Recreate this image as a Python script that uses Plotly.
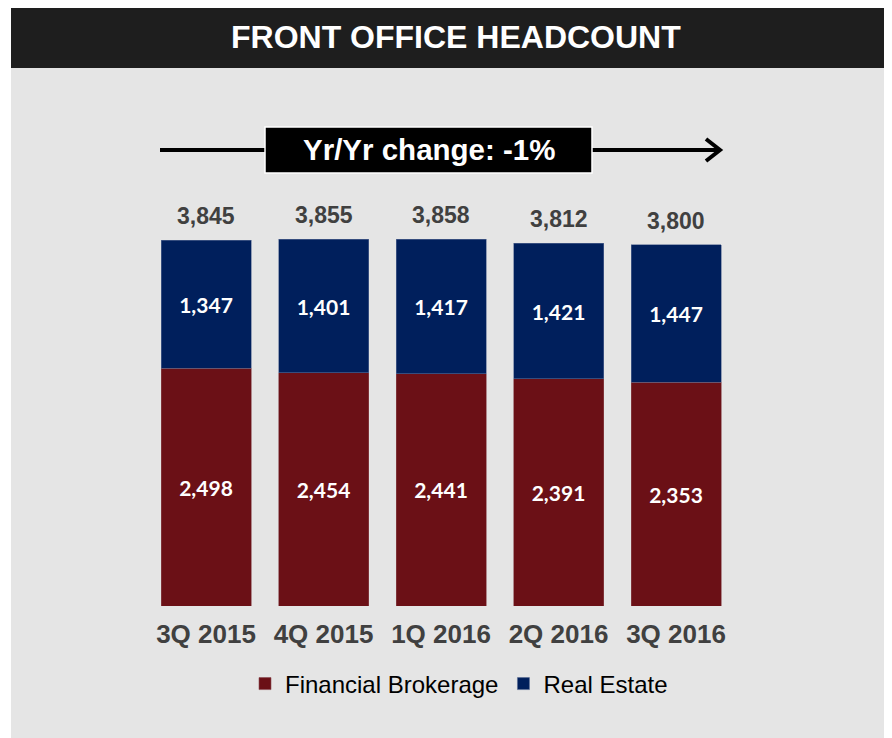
import plotly.graph_objects as go

# Data
quarters = ['3Q 2015', '4Q 2015', '1Q 2016', '2Q 2016', '3Q 2016']
financial_brokerage = [2498, 2454, 2441, 2391, 2353]
real_estate = [1347, 1401, 1417, 1421, 1447]
totals = [3845, 3855, 3858, 3812, 3800]
yoy_label = 'Yr/Yr change: -1%'
title_text = 'FRONT OFFICE HEADCOUNT'

# the page body has an 8px margin, so the figure is a bit smaller than the window
OFF = 8
VW, VH = 892, 738
W, H = VW - OFF, VH - OFF
RED = '#6b1016'
BLUE = '#001f5c'
GRAY_BG = '#e5e5e5'
TEXT_GRAY = '#404040'
ARIAL = 'Liberation Sans, Arial'
GILL = 'Lato, Gill Sans MT, Noto Sans, sans-serif'


def px_x(x):
    # window pixel -> paper fraction
    return (x - OFF) / W


def px_y(y):
    return (VH - y) / H


fig = go.Figure()

fig.add_trace(go.Bar(
    x=quarters,
    y=financial_brokerage,
    name='Financial Brokerage',
    marker=dict(color=RED, line=dict(color='#8a4a50', width=0.6)),
    text=[f'{v:,}' for v in financial_brokerage],
    textposition='inside',
    insidetextanchor='middle',
    textfont=dict(family=GILL, size=21, color='white', weight='bold'),
    hovertemplate='%{x}<br>Financial Brokerage: %{y:,}<extra></extra>'
))

fig.add_trace(go.Bar(
    x=quarters,
    y=real_estate,
    name='Real Estate',
    marker=dict(color=BLUE, line=dict(color='#5a6c94', width=0.6)),
    text=[f'{v:,}' for v in real_estate],
    textposition='inside',
    insidetextanchor='middle',
    textfont=dict(family=GILL, size=21, color='white', weight='bold'),
    hovertemplate='%{x}<br>Real Estate: %{y:,}<extra></extra>'
))

# Totals above the bars
for q, t in zip(quarters, totals):
    fig.add_annotation(
        x=q, y=t, xref='x', yref='y',
        text=f'{t:,}',
        showarrow=False,
        xanchor='center', yanchor='bottom',
        yshift=9,
        font=dict(family=ARIAL, size=23, color=TEXT_GRAY, weight='bold')
    )

# Background panel, title bar, arrow and change box
shapes = [
    dict(type='rect', xref='paper', yref='paper',
         x0=px_x(11), x1=1, y0=0, y1=px_y(68),
         fillcolor=GRAY_BG, line=dict(width=0), layer='below'),
    dict(type='rect', xref='paper', yref='paper',
         x0=px_x(11), x1=1, y0=px_y(68), y1=1,
         fillcolor='#1e1e1e', line=dict(width=0), layer='below'),
    dict(type='line', xref='paper', yref='paper',
         x0=px_x(160), x1=px_x(719), y0=px_y(150), y1=px_y(150),
         line=dict(color='black', width=4)),
    dict(type='path', xref='paper', yref='paper',
         path=f'M {px_x(706)} {px_y(139)} L {px_x(720)} {px_y(150)} L {px_x(706)} {px_y(161)}',
         line=dict(color='black', width=4)),
    dict(type='rect', xref='paper', yref='paper',
         x0=px_x(265), x1=px_x(592), y0=px_y(173), y1=px_y(127),
         fillcolor='black', line=dict(color='white', width=1.5)),
]

fig.add_annotation(
    x=px_x(456), y=px_y(37), xref='paper', yref='paper',
    xanchor='center', yanchor='middle',
    text=title_text, showarrow=False,
    font=dict(family=ARIAL, size=32, color='white', weight='bold')
)
fig.add_annotation(
    x=px_x(429), y=px_y(150), xref='paper', yref='paper',
    xanchor='center', yanchor='middle',
    text=yoy_label, showarrow=False,
    font=dict(family=ARIAL, size=29.5, color='white', weight='bold')
)

scale = 0.0951  # px per headcount
bar_bottom = 606
first_center = 206
step = 117.5
fig.update_layout(
    width=W, height=H,
    margin=dict(l=0, r=0, t=0, b=0),
    paper_bgcolor='white',
    plot_bgcolor='rgba(0,0,0,0)',
    barmode='stack',
    bargap=0.234,
    shapes=shapes,
    showlegend=True,
    legend=dict(
        orientation='h',
        x=px_x(459), xanchor='center',
        y=px_y(684), yanchor='middle',
        bgcolor='rgba(0,0,0,0)',
        font=dict(family=ARIAL, size=24, color='black'),
        itemwidth=30,
        traceorder='normal'
    ),
    xaxis=dict(
        range=[-(first_center - OFF) / step, (VW - first_center) / step],
        showgrid=False, zeroline=False, showline=False,
        ticks='outside', ticklen=5, tickcolor='rgba(0,0,0,0)',
        tickfont=dict(family=ARIAL, size=26, color=TEXT_GRAY, weight='bold')
    ),
    yaxis=dict(
        domain=[(VH - bar_bottom) / H, 1],
        range=[0, (bar_bottom - OFF) / scale],
        showgrid=False, zeroline=False, showline=False,
        showticklabels=False
    ),
)

fig.write_html('out.html')
